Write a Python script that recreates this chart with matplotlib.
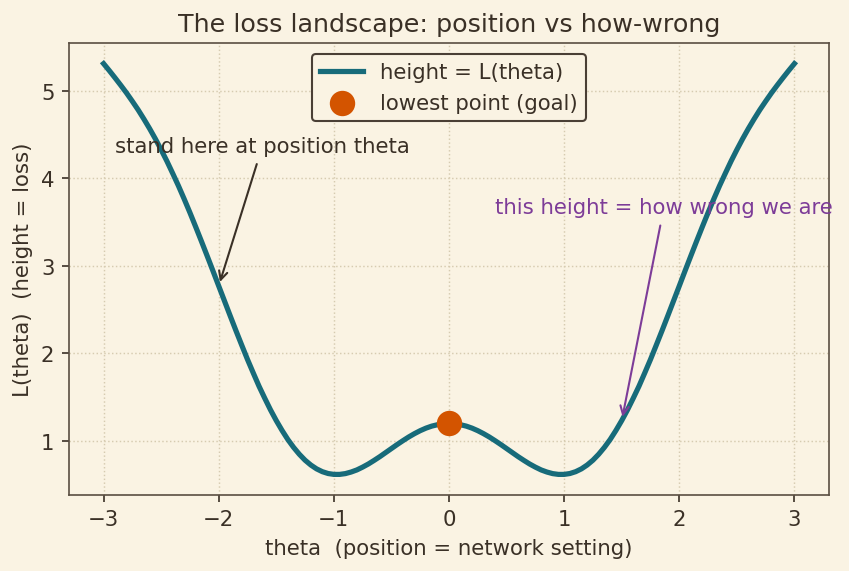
import matplotlib
matplotlib.use('Agg')
import matplotlib.pyplot as plt

# ── data ──────────────────────────────────────────────────────────────────
theta_half = [0.0, 0.05, 0.1, 0.15, 0.2, 0.25, 0.3, 0.35, 0.4, 0.45, 0.5,
              0.55, 0.6, 0.65, 0.7, 0.75, 0.8, 0.85, 0.9, 0.95, 1.0,
              1.05, 1.1, 1.15, 1.2, 1.25, 1.3, 1.35, 1.4, 1.45, 1.5,
              1.55, 1.6, 1.65, 1.7, 1.75, 1.8, 1.85, 1.9, 1.95, 2.0,
              2.05, 2.1, 2.15, 2.2, 2.25, 2.3, 2.35, 2.4, 2.45, 2.5,
              2.55, 2.6, 2.65, 2.7, 2.75, 2.8, 2.85, 2.9, 2.95, 3.0]
loss_half = [1.200, 1.197, 1.186, 1.170, 1.147, 1.118, 1.084, 1.046, 1.004, 0.960, 0.914,
             0.868, 0.822, 0.779, 0.738, 0.702, 0.670, 0.646, 0.628, 0.619, 0.619,
             0.629, 0.650, 0.682, 0.726, 0.781, 0.849, 0.928, 1.018, 1.121, 1.233,
             1.355, 1.488, 1.626, 1.777, 1.931, 2.094, 2.259, 2.428, 2.599, 2.770,
             2.942, 3.112, 3.280, 3.445, 3.607, 3.763, 3.914, 4.056, 4.195, 4.325,
             4.449, 4.566, 4.676, 4.781, 4.878, 4.972, 5.060, 5.145, 5.228, 5.308]
# curve is symmetric about theta = 0
theta = [-t for t in theta_half[:0:-1]] + theta_half
loss = loss_half[:0:-1] + loss_half

goal_theta, goal_loss = 0.0, 1.20
stand_theta, stand_loss = -2.0, 2.77
wrong_theta, wrong_loss = 1.5, 1.23

BG = '#faf3e3'
INK = '#3a3026'
TEAL = '#176b7a'
ORANGE = '#d35400'
PURPLE = '#7d3c98'

plt.rcParams['font.family'] = ['DejaVu Sans']
plt.rcParams['text.color'] = INK
plt.rcParams['axes.labelcolor'] = INK
plt.rcParams['xtick.color'] = INK
plt.rcParams['ytick.color'] = INK

fig, ax = plt.subplots(figsize=(5.66, 3.813), dpi=150)
fig.patch.set_facecolor(BG)
ax.set_facecolor(BG)
fig.subplots_adjust(left=0.0813, right=0.9764, top=0.923, bottom=0.133)

ax.plot(theta, loss, color=TEAL, linewidth=2.5, label='height = L(theta)')
ax.scatter([goal_theta], [goal_loss], s=125, color=ORANGE, zorder=3,
           label='lowest point (goal)')

ax.annotate('stand here at position theta', xy=(stand_theta, stand_loss),
            xytext=(-2.9, 4.3), fontsize=10.2, color=INK,
            arrowprops=dict(arrowstyle='->', color=INK, lw=1))
ax.annotate('this height = how wrong we are', xy=(wrong_theta, wrong_loss),
            xytext=(0.4, 3.6), fontsize=10.2, color=PURPLE,
            arrowprops=dict(arrowstyle='->', color=PURPLE, lw=1))

ax.set_title('The loss landscape: position vs how-wrong', fontsize=12.2, color=INK)
ax.set_xlabel('theta  (position = network setting)', fontsize=10.2)
ax.set_ylabel('L(theta)  (height = loss)', fontsize=10.2)
ax.tick_params(labelsize=10.2)
ax.grid(True, linestyle=':', color='#d6cbb0', linewidth=0.7)
for s in ax.spines.values():
    s.set_color('#5a4e42')

leg = ax.legend(loc='upper center', fontsize=10.2, facecolor=BG, edgecolor='#4a3f35',
                framealpha=1)
for t in leg.get_texts():
    t.set_color(INK)

plt.savefig('out.png', facecolor=BG)
plt.close()
